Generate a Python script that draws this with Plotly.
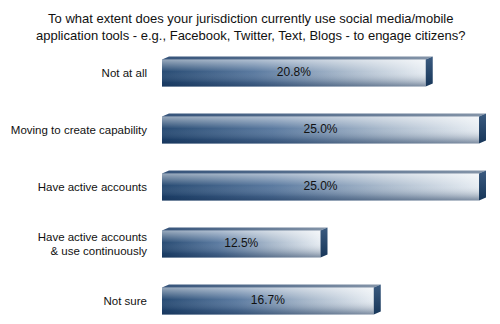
import plotly.graph_objects as go

# Survey responses
categories = [
    "Not at all",
    "Moving to create capability",
    "Have active accounts",
    "Have active accounts<br>& use continuously",
    "Not sure",
]
shares = [20.8, 25.0, 25.0, 12.5, 16.7]

title_lines = [
    "To what extent does your jurisdiction currently use social media/mobile",
    "application tools - e.g., Facebook, Twitter, Text, Blogs - to engage citizens?",
]

W, H = 500, 324
X0_PX, PX_PER_UNIT_X = 162, 12.68   # where 0% sits and pixels per percentage point
PX_PER_UNIT_Y = 57                  # spacing between bars
X_MAX = (W - X0_PX) / PX_PER_UNIT_X
Y_MIN = -23 / PX_PER_UNIT_Y
Y_MAX = Y_MIN + H / PX_PER_UNIT_Y

half = 13.5 / PX_PER_UNIT_Y        # half height of the front face
dx = 7 / PX_PER_UNIT_X             # depth of the 3D extrusion
dy = 3 / PX_PER_UNIT_Y

n = len(categories)
ypos = [n - 1 - i for i in range(n)]

fig = go.Figure()


def poly(xs, ys, grad_type, scale):
    fig.add_trace(go.Scatter(
        x=xs + [xs[0]], y=ys + [ys[0]], mode="lines", fill="toself",
        line=dict(width=0), fillgradient=dict(type=grad_type, colorscale=scale),
        hoverinfo="skip", showlegend=False,
    ))


for v, c in zip(shares, ypos):
    lo, hi = c - half, c + half
    # soft wall shadow to the left of each bar
    sx = 0.45
    poly([-sx, -0.02, -0.02, -sx * 0.6],
         [hi + 0.18, hi + 0.18, lo - 0.12, lo - 0.12],
         "horizontal",
         [[0, "rgba(255,255,255,0)"], [0.55, "rgba(150,150,150,0.55)"], [1, "rgba(110,110,110,0.85)"]])
    # front face: horizontal navy-to-white gradient
    poly([0, v, v, 0], [lo, lo, hi, hi], "horizontal",
         [[0, "#1d426c"], [0.35, "#52739b"], [0.7, "#a6b7ca"], [1, "#e6ecf2"]])
    # vertical shading on the front face (darker top, lighter bottom)
    poly([0, v, v, 0], [lo, lo, hi, hi], "vertical",
         [[0, "rgba(20,45,80,0.5)"], [0.15, "rgba(20,45,80,0.28)"],
          [0.55, "rgba(255,255,255,0.05)"], [1, "rgba(255,255,255,0.55)"]])
    # top face
    poly([0, v, v + dx, dx], [hi, hi, hi + dy, hi + dy], "horizontal",
         [[0, "#35537a"], [1, "#8494a8"]])
    # right side face
    poly([v, v + dx, v + dx, v], [lo, lo + dy, hi + dy, hi], "vertical",
         [[0, "#173659"], [1, "#3b5b80"]])

# value labels centred on each bar
fig.add_trace(go.Scatter(
    x=[v / 2 for v in shares], y=ypos, mode="text",
    text=[f"{v:.1f}%" for v in shares],
    textfont=dict(family="Liberation Sans, Arial", size=12, color="#111111"),
    hoverinfo="skip", showlegend=False,
))

fig.update_layout(
    width=W, height=H,
    margin=dict(l=0, r=0, t=0, b=0),
    paper_bgcolor="white", plot_bgcolor="white",
    font=dict(family="Liberation Sans, Arial", size=12, color="#111111"),
    xaxis=dict(domain=[X0_PX / W, 1], range=[0, X_MAX], visible=False, fixedrange=True),
    yaxis=dict(range=[Y_MIN, Y_MAX], tickmode="array", tickvals=ypos, ticktext=categories,
               showgrid=False, zeroline=False, showline=False, ticks="",
               ticklabelstandoff=14,
               tickfont=dict(family="Liberation Sans, Arial", size=11.5, color="#111111"),
               fixedrange=True),
    annotations=[
        dict(text="<br>".join(title_lines), x=0.5, y=1 - 9 / H, xref="paper", yref="paper",
             xanchor="center", yanchor="top", showarrow=False, align="center",
             font=dict(family="Liberation Sans, Arial", size=13, color="#111111")),
    ],
)

fig.write_html("out.html")
